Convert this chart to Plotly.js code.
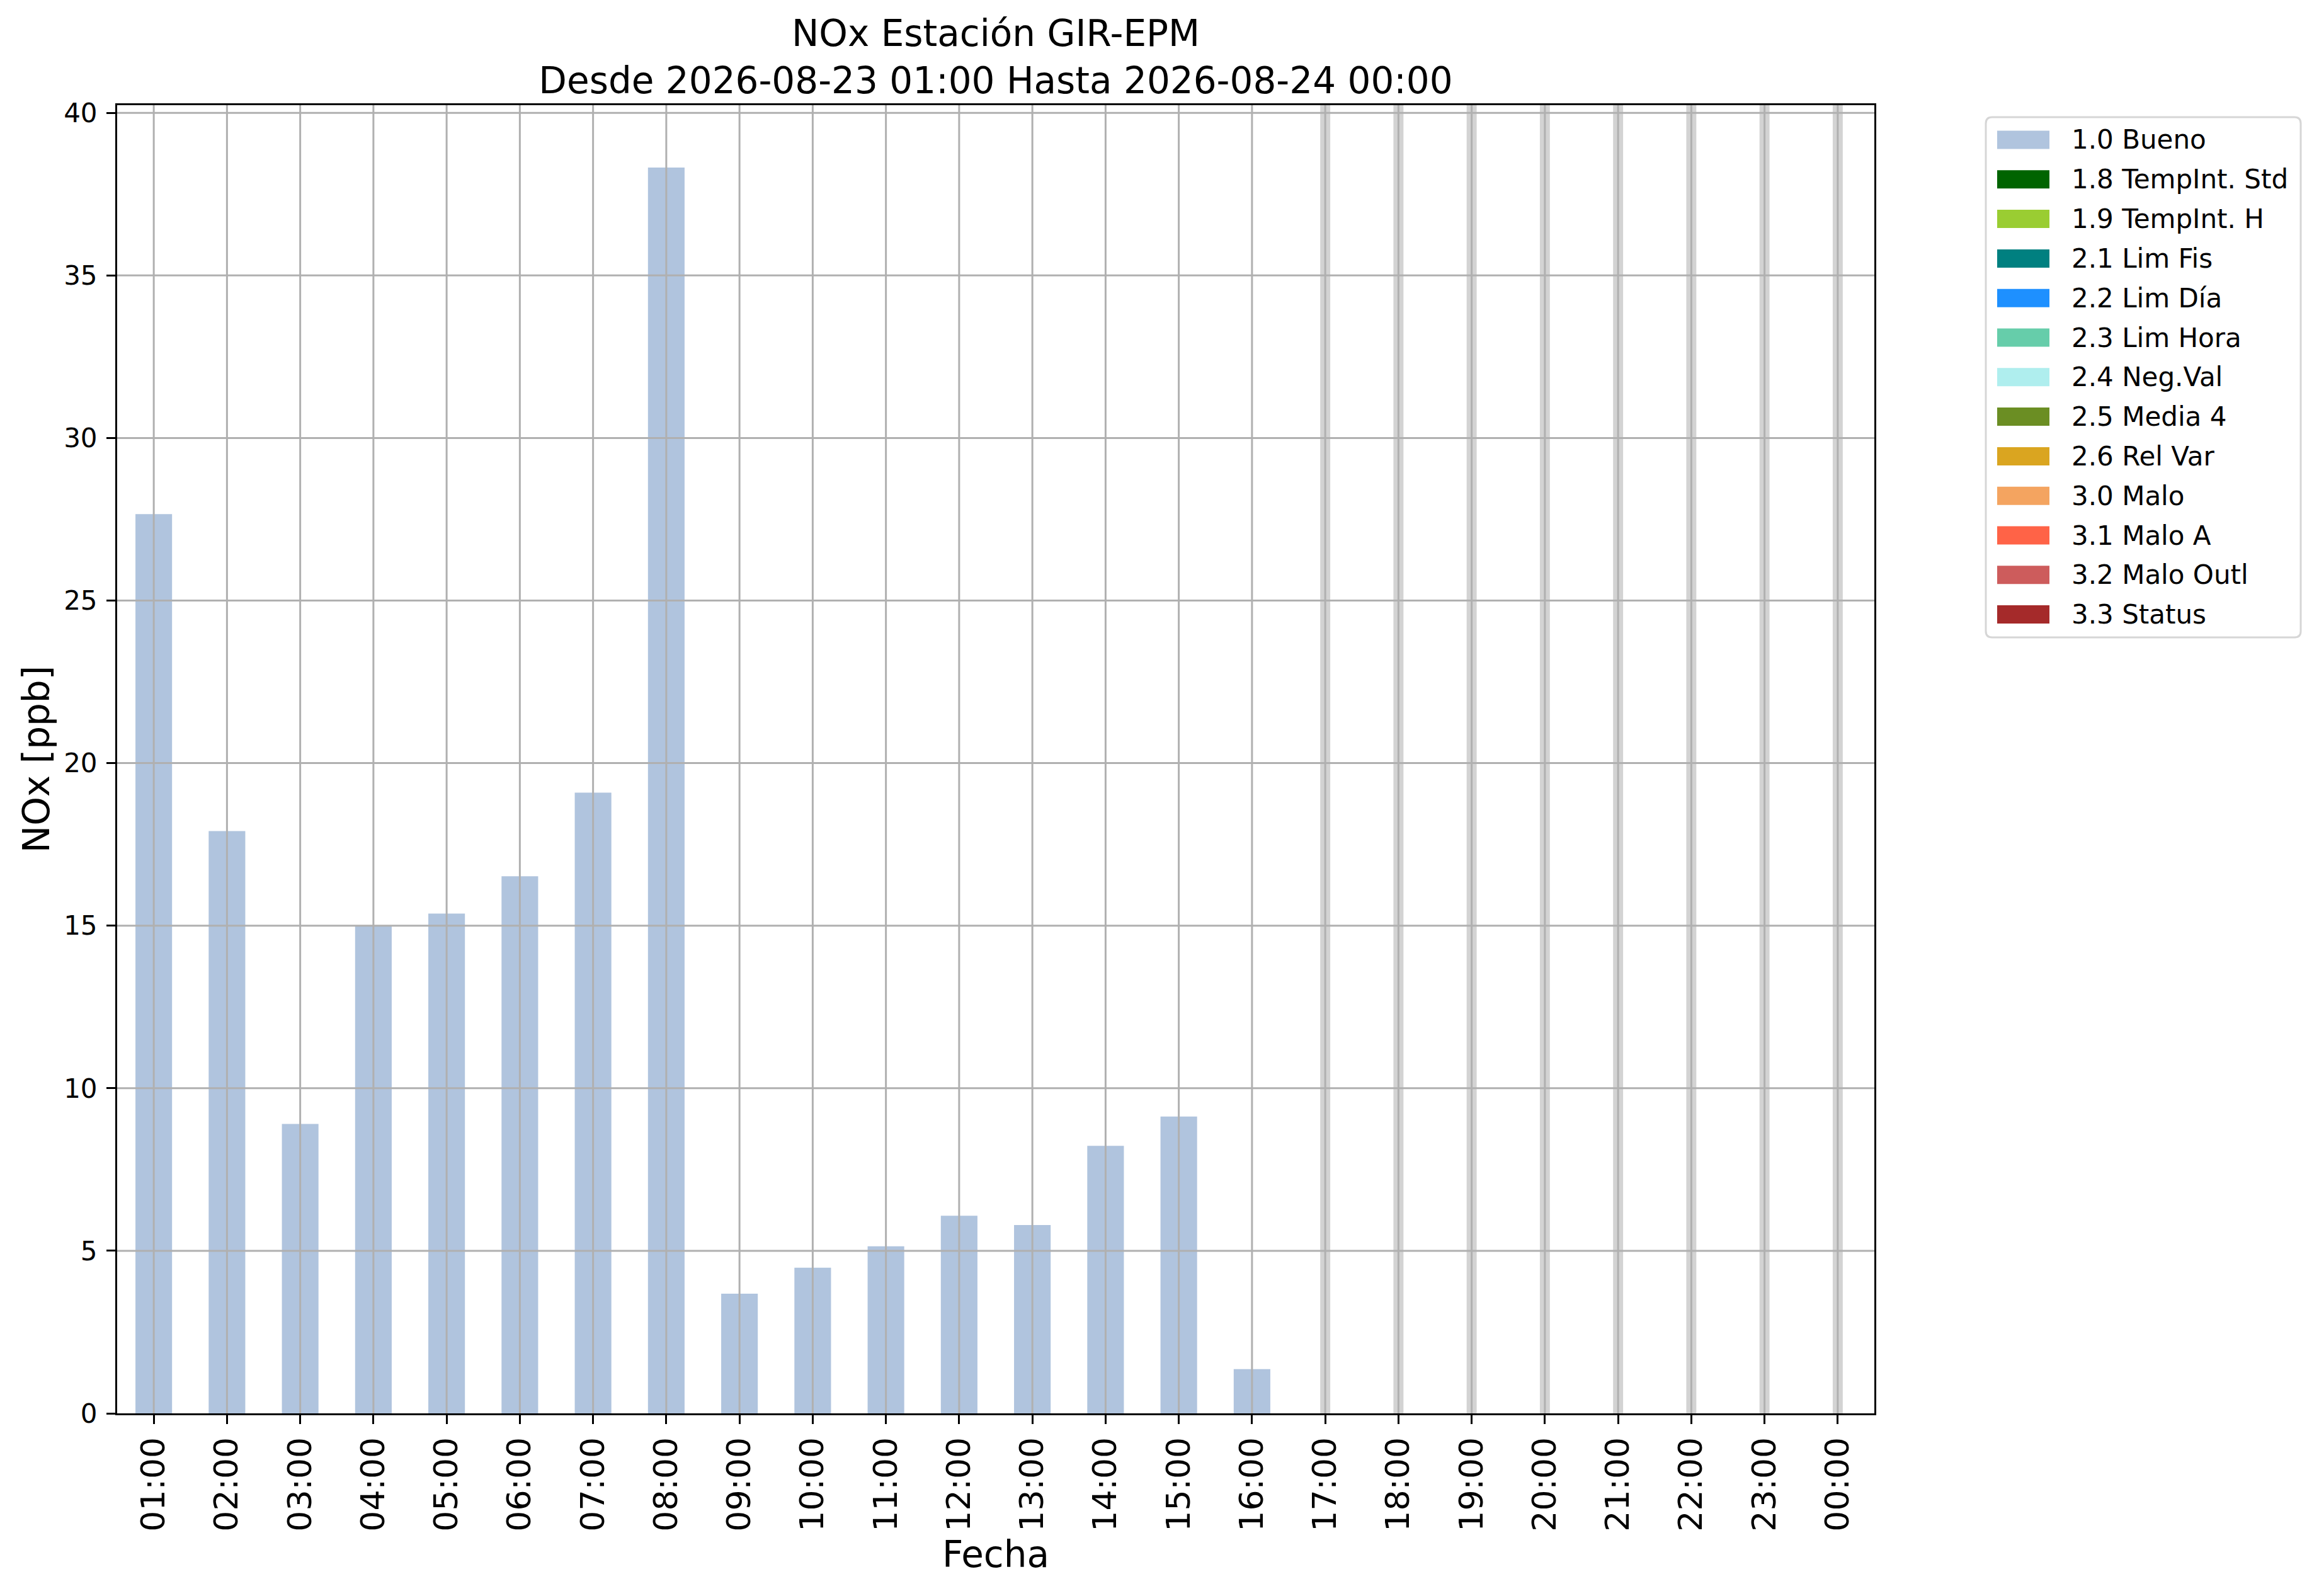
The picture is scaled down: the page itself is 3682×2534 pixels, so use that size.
<!DOCTYPE html>
<html>
<head>
<meta charset="utf-8">
<script src="https://cdn.plot.ly/plotly-3.0.1.min.js"></script>
<style>
  html, body { margin: 0; padding: 0; background: #ffffff; }
  #chart { width: 3682px; height: 2534px; }
</style>
</head>
<body>
<div id="chart"></div>
<script>
// hourly labels for the day
const hours = ['01:00', '02:00', '03:00', '04:00', '05:00', '06:00', '07:00', '08:00',
               '09:00', '10:00', '11:00', '12:00', '13:00', '14:00', '15:00', '16:00',
               '17:00', '18:00', '19:00', '20:00', '21:00', '22:00', '23:00', '00:00'];

// NOx [ppb] flagged 1.0 Bueno (null = no data)
const noxBueno = [27.66, 17.91, 8.9, 14.98, 15.37, 16.52, 19.09, 38.32,
                  3.68, 4.48, 5.14, 6.08, 5.79, 8.23, 9.13, 1.36,
                  null, null, null, null, null, null, null, null];

// quality flags (only Bueno has data in this window)
const flagNames = ['1.0 Bueno', '1.8 TempInt. Std', '1.9 TempInt. H', '2.1 Lim Fis', '2.2 Lim Día',
                   '2.3 Lim Hora', '2.4 Neg.Val', '2.5 Media 4', '2.6 Rel Var', '3.0 Malo',
                   '3.1 Malo A', '3.2 Malo Outl', '3.3 Status'];
const flagColors = ['#b0c4de', '#006400', '#9acd32', '#008080', '#1e90ff',
                    '#66cdaa', '#afeeee', '#6b8e23', '#daa520', '#f4a460',
                    '#ff6347', '#cd5c5c', '#a52a2a'];

const yTicks = [0, 5, 10, 15, 20, 25, 30, 35, 40];

const FONT = 'DejaVu Sans, Liberation Sans, sans-serif';
const W = 3682, H = 2534;
const M = { l: 186, r: 706, t: 167, b: 290 };
const Y_TOP = Math.max(...noxBueno.filter(v => v !== null)) * 1.05;

// pixel -> paper helpers (for the hand-made legend box)
const plotW = W - M.l - M.r, plotH = H - M.t - M.b;
const px = x => (x - M.l) / plotW;
const py = y => (H - M.b - y) / plotH;

// missing hours get a light grey band
const missing = hours.filter((h, i) => noxBueno[i] === null);

const traces = [];
traces.push({
    type: 'bar',
    x: missing,
    y: missing.map(() => Y_TOP),
    width: 0.137,
    marker: { color: '#d3d3d3' },
    showlegend: false,
    hoverinfo: 'skip'
});
flagNames.forEach((name, k) => {
    traces.push({
        type: 'bar',
        name: name,
        x: hours,
        y: k === 0 ? noxBueno : hours.map(() => null),
        width: 0.5,
        marker: { color: flagColors[k] },
        showlegend: false
    });
});

// grid drawn over the bars, like the original
const shapes = [];
hours.forEach(h => {
    shapes.push({
        type: 'line', layer: 'above', xref: 'x', yref: 'paper',
        x0: h, x1: h, y0: 0, y1: 1,
        line: { color: '#b0b0b0', width: 3 }
    });
});
yTicks.filter(v => v > 0).forEach(v => {
    shapes.push({
        type: 'line', layer: 'above', xref: 'paper', yref: 'y',
        x0: 0, x1: 1, y0: v, y1: v,
        line: { color: '#b0b0b0', width: 3 }
    });
});

// legend box (rounded corners)
const lb = { x0: 3153, x1: 3653, y0: 186, y1: 1012, r: 10 };
const rx = lb.r / plotW, ry = lb.r / plotH;
const X0 = px(lb.x0), X1 = px(lb.x1), Y0 = py(lb.y1), Y1 = py(lb.y0);
shapes.push({
    type: 'path', xref: 'paper', yref: 'paper', layer: 'above',
    path: `M ${X0 + rx},${Y0} L ${X1 - rx},${Y0} Q ${X1},${Y0} ${X1},${Y0 + ry} ` +
          `L ${X1},${Y1 - ry} Q ${X1},${Y1} ${X1 - rx},${Y1} L ${X0 + rx},${Y1} ` +
          `Q ${X0},${Y1} ${X0},${Y1 - ry} L ${X0},${Y0 + ry} Q ${X0},${Y0} ${X0 + rx},${Y0} Z`,
    fillcolor: '#ffffff',
    line: { color: '#d6d6d6', width: 3 }
});

const annotations = [];
const rowH = 62.8, firstRow = 222;
flagNames.forEach((name, k) => {
    const cy = firstRow + rowH * k;
    shapes.push({
        type: 'rect', xref: 'paper', yref: 'paper', layer: 'above',
        x0: px(3171), x1: px(3254), y0: py(cy + 14.5), y1: py(cy - 14.5),
        fillcolor: flagColors[k], line: { width: 0 }
    });
    annotations.push({
        xref: 'paper', yref: 'paper', x: px(3287), y: py(cy),
        xanchor: 'left', yanchor: 'middle', showarrow: false,
        text: name, font: { family: FONT, size: 42, color: '#000000' }
    });
});

const layout = {
    width: W,
    height: H,
    autosize: false,
    margin: M,
    paper_bgcolor: '#ffffff',
    plot_bgcolor: '#ffffff',
    barmode: 'overlay',
    showlegend: false,
    font: { family: FONT, color: '#000000' },
    title: {
        text: 'NOx Estación GIR-EPM<br>Desde 2026-08-23 01:00 Hasta 2026-08-24 00:00',
        font: { family: FONT, size: 58, color: '#000000' },
        x: 0.5, xref: 'paper', xanchor: 'center',
        y: 1, yref: 'paper', yanchor: 'bottom',
        pad: { b: 94 }
    },
    xaxis: {
        type: 'category',
        categoryorder: 'array',
        categoryarray: hours,
        range: [-0.5, hours.length - 0.5],
        showgrid: false,
        showline: true, linecolor: '#000000', linewidth: 3, mirror: true,
        ticks: 'outside', ticklen: 14, tickwidth: 3, tickcolor: '#000000',
        tickangle: -90,
        tickfont: { family: FONT, size: 52, color: '#000000' },
        title: { text: 'Fecha', font: { family: FONT, size: 58, color: '#000000' }, standoff: 17 },
        automargin: false
    },
    yaxis: {
        range: [0, Y_TOP],
        tickmode: 'array',
        tickvals: yTicks,
        showgrid: false,
        zeroline: false,
        showline: true, linecolor: '#000000', linewidth: 3, mirror: true,
        ticks: 'outside', ticklen: 14, tickwidth: 3, tickcolor: '#000000',
        ticklabelstandoff: 6,
        tickfont: { family: FONT, size: 42, color: '#000000' },
        title: { text: 'NOx [ppb]', font: { family: FONT, size: 58, color: '#000000' }, standoff: 4 },
        automargin: false
    },
    shapes: shapes,
    annotations: annotations
};

Plotly.newPlot('chart', traces, layout, { displayModeBar: false, responsive: false });
</script>
</body>
</html>
